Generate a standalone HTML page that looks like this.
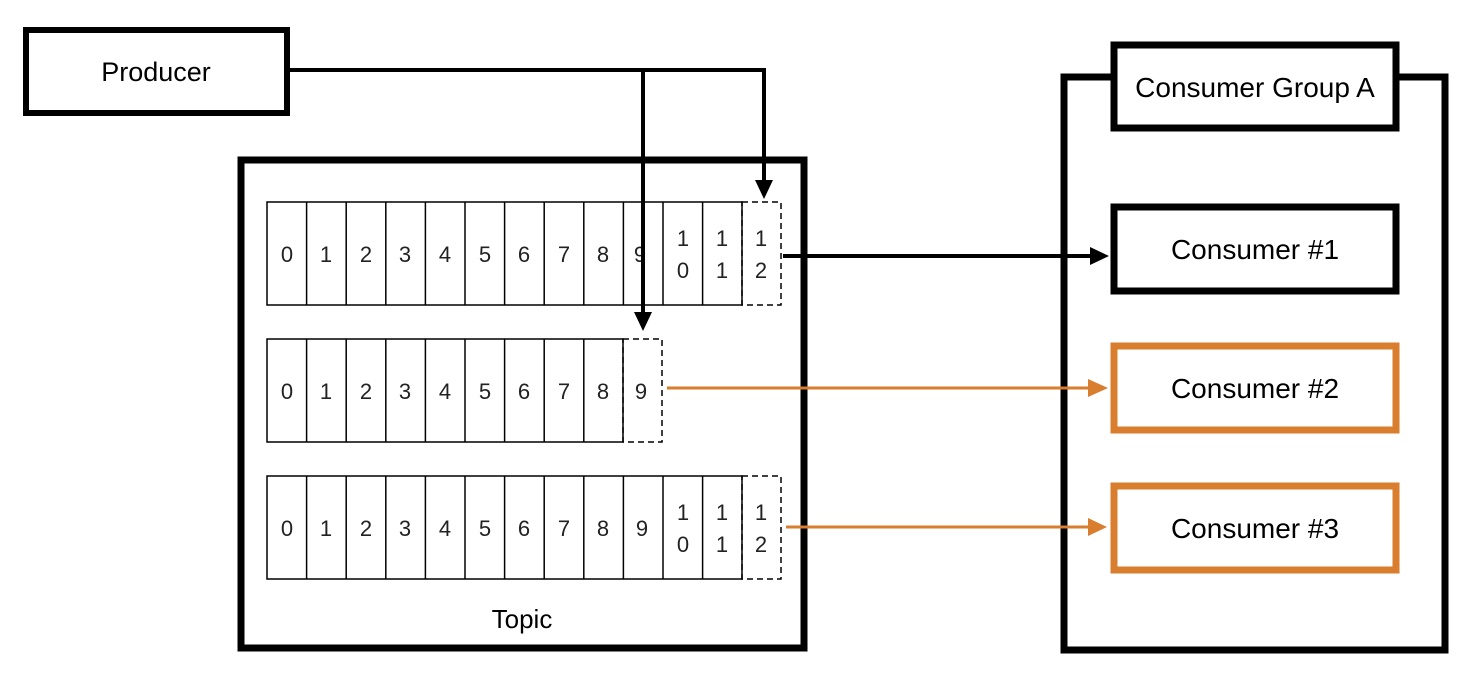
<!DOCTYPE html>
<html><head><meta charset="utf-8"><style>html,body{margin:0;padding:0;background:#fff}svg{display:block}</style></head><body>
<svg width="1481" height="678" viewBox="0 0 1481 678" xmlns="http://www.w3.org/2000/svg" font-family="Liberation Sans, sans-serif">
<!-- Producer -->
<rect x="26" y="30" width="261" height="83" fill="#fff" stroke="#000" stroke-width="6"/>
<text x="156" y="81" font-size="27" text-anchor="middle">Producer</text>
<!-- Topic -->
<rect x="241" y="160" width="563" height="488" fill="none" stroke="#000" stroke-width="7"/>
<text x="522" y="628" font-size="26" text-anchor="middle">Topic</text>
<!-- Consumer group -->
<rect x="1064" y="77" width="381" height="573" fill="none" stroke="#000" stroke-width="7"/>
<rect x="1114" y="45" width="282" height="83" fill="#fff" stroke="#000" stroke-width="7"/>
<text x="1255" y="97" font-size="28" text-anchor="middle">Consumer Group A</text>
<rect x="1114" y="207" width="282" height="84" fill="#fff" stroke="#000" stroke-width="7"/>
<text x="1255" y="259" font-size="28" text-anchor="middle">Consumer #1</text>
<rect x="1114" y="346" width="282" height="84" fill="#fff" stroke="#D97D2E" stroke-width="7"/>
<text x="1255" y="398" font-size="28" text-anchor="middle">Consumer #2</text>
<rect x="1114" y="486" width="282" height="84" fill="#fff" stroke="#D97D2E" stroke-width="7"/>
<text x="1255" y="538" font-size="28" text-anchor="middle">Consumer #3</text>
<g font-size="22" text-anchor="middle" fill="#222">
<g stroke="#000" stroke-width="1.5" fill="none">
<rect x="267" y="202" width="475" height="103"/>
<path d="M306.6 202v103M346.2 202v103M385.8 202v103M425.4 202v103M465 202v103M504.6 202v103M544.2 202v103M583.8 202v103M623.4 202v103M663 202v103M702.6 202v103"/>
<rect x="742" y="202" width="39" height="103" stroke-dasharray="6,4"/>
<rect x="267" y="339" width="356" height="103"/>
<path d="M306.6 339v103M346.2 339v103M385.8 339v103M425.4 339v103M465 339v103M504.6 339v103M544.2 339v103M583.8 339v103"/>
<rect x="623" y="339" width="39" height="103" stroke-dasharray="6,4"/>
<rect x="267" y="476" width="475" height="103"/>
<path d="M306.6 476v103M346.2 476v103M385.8 476v103M425.4 476v103M465 476v103M504.6 476v103M544.2 476v103M583.8 476v103M623.4 476v103M663 476v103M702.6 476v103"/>
<rect x="742" y="476" width="39" height="103" stroke-dasharray="6,4"/>
</g>
<g>
<text x="287" y="262">0</text><text x="326" y="262">1</text><text x="366" y="262">2</text><text x="405" y="262">3</text><text x="445" y="262">4</text><text x="485" y="262">5</text><text x="524" y="262">6</text><text x="564" y="262">7</text><text x="603" y="262">8</text><text x="640" y="262">9</text>
<text x="683" y="246">1</text><text x="683" y="278">0</text><text x="722" y="246">1</text><text x="722" y="278">1</text><text x="761" y="246">1</text><text x="761" y="278">2</text>
<text x="287" y="399">0</text><text x="326" y="399">1</text><text x="366" y="399">2</text><text x="405" y="399">3</text><text x="445" y="399">4</text><text x="485" y="399">5</text><text x="524" y="399">6</text><text x="564" y="399">7</text><text x="603" y="399">8</text><text x="641" y="399">9</text>
<text x="287" y="536">0</text><text x="326" y="536">1</text><text x="366" y="536">2</text><text x="405" y="536">3</text><text x="445" y="536">4</text><text x="485" y="536">5</text><text x="524" y="536">6</text><text x="564" y="536">7</text><text x="603" y="536">8</text><text x="642" y="536">9</text>
<text x="683" y="520">1</text><text x="683" y="552">0</text><text x="722" y="520">1</text><text x="722" y="552">1</text><text x="761" y="520">1</text><text x="761" y="552">2</text>
</g>
</g>
<g stroke="#000" stroke-width="4" fill="none">
<path d="M289 70H764V182"/>
<path d="M643 70V314"/>
<path d="M783 256H1092"/>
</g>
<polygon points="755,180 773,180 764,199" fill="#000"/>
<polygon points="634,312 652,312 643,331" fill="#000"/>
<polygon points="1090,247 1090,265 1109,256" fill="#000"/>
<g stroke="#D97D2E" stroke-width="3" fill="none">
<path d="M667 388H1092"/>
<path d="M786 527H1092"/>
</g>
<polygon points="1088,379 1088,397 1108,388" fill="#D97D2E"/>
<polygon points="1088,518 1088,536 1107,527" fill="#D97D2E"/>
</svg>
</body></html>
